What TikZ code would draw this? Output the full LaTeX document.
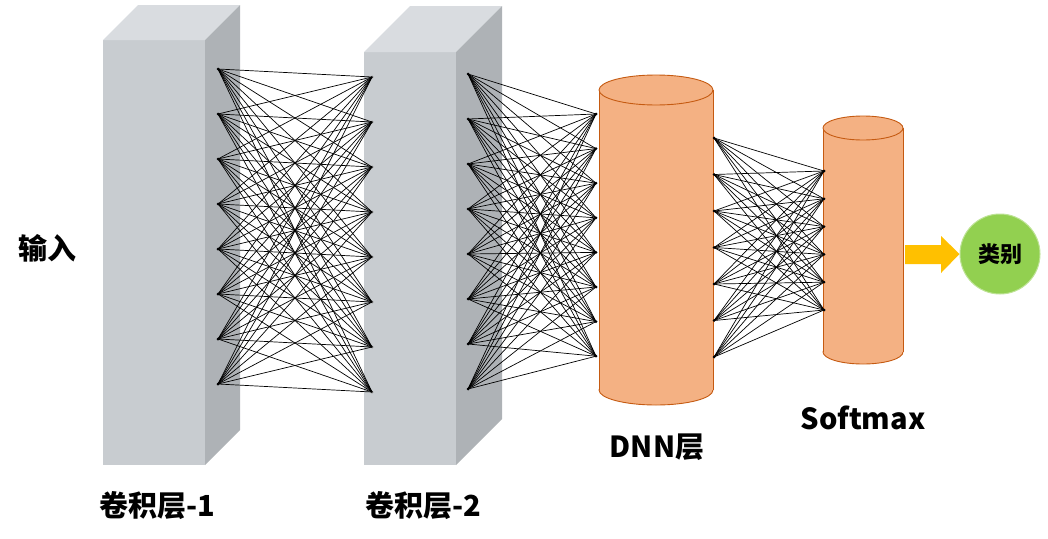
\documentclass[tikz,border=0pt]{standalone}
\usepackage{fontspec}
\setmainfont{Noto Sans CJK SC}
\definecolor{bfront}{HTML}{C8CCD0}
\definecolor{btop}{HTML}{D9DCE0}
\definecolor{bright}{HTML}{AEB2B6}
\definecolor{cylfill}{HTML}{F4B183}
\definecolor{cylline}{HTML}{C55A11}
\definecolor{arrowc}{HTML}{FFC000}
\definecolor{clsfill}{HTML}{92D050}
\tikzset{
  dot/.style={circle,fill=black,inner sep=0pt,minimum size=3pt},
  conn/.style={draw=black,line width=0.7pt},
  lbl/.style={font=\fontsize{29}{31}\selectfont\bfseries,inner sep=0pt},
  cyl/.style={fill=cylfill,draw=cylline,line width=0.9pt},
}
\begin{document}
\begin{tikzpicture}[x=1pt,y=-1pt]
\useasboundingbox (0,0) rectangle (1048,538);
% block 1
\fill[bfront] (103,40) rectangle (205,465);
\fill[btop] (103,40) -- (138,5) -- (240,5) -- (205,40) -- cycle;
\fill[bright] (205,40) -- (240,5) -- (240,430) -- (205,465) -- cycle;
% block 2
\fill[bfront] (364,52) rectangle (456,465);
\fill[btop] (364,52) -- (410,6) -- (502,6) -- (456,52) -- cycle;
\fill[bright] (456,52) -- (502,6) -- (502,419) -- (456,465) -- cycle;
% DNN cylinder
\draw[cyl] (656,390) ellipse [x radius=57pt, y radius=15pt];
\fill[cylfill] (599,90) rectangle (713,390);
\draw[cylline,line width=0.9pt] (599,90) -- (599,390) (713,90) -- (713,390);
\draw[cyl] (656,90) ellipse [x radius=57pt, y radius=15pt];
% Softmax cylinder
\draw[cyl] (863,352) ellipse [x radius=40pt, y radius=12pt];
\fill[cylfill] (823,128) rectangle (903,352);
\draw[cylline,line width=0.9pt] (823,128) -- (823,352) (903,128) -- (903,352);
\draw[cyl] (863,128) ellipse [x radius=40pt, y radius=12pt];
% neuron points
\foreach \i in {1,...,8} {
  \node[dot] (a\i) at (218,{69+45*(\i-1)}) {};
  \node[dot,fill=gray] (b\i) at (372,{77+45*(\i-1)}) {};
  \node[dot] (c\i) at (468,{74+45*(\i-1)}) {};
  \node[dot] (d\i) at (596,{114+34.6*(\i-1)}) {};
}
\foreach \i in {1,...,7} {
  \node[dot] (e\i) at (714,{138+36.5*(\i-1)}) {};
}
\foreach \i in {1,...,6} {
  \node[dot] (f\i) at (824,{171+27.8*(\i-1)}) {};
}
% connections
\foreach \i in {1,...,8} {
  \foreach \j in {1,...,8} {
    \draw[conn] (a\i.center) -- (b\j.center);
    \draw[conn] (c\i.center) -- (d\j.center);
  }
}
\foreach \i in {1,...,7} {
  \foreach \j in {1,...,6} {
    \draw[conn] (e\i.center) -- (f\j.center);
  }
}
% output arrow and class
\node[circle,fill=clsfill,draw=clsfill!60!white,line width=1pt,minimum size=80pt,inner sep=0pt,
      font=\fontsize{22}{24}\selectfont\bfseries] (cls) at (1000,254) {类别};
\fill[arrowc] (905,245) -- (941,245) -- (941,236) -- (cls.west) -- (941,273) -- (941,264) -- (905,264) -- cycle;
% labels
\node[lbl] (in) at (47,248) {输入};
\node[lbl] (l1) at (157,506) {卷积层-1};
\node[lbl] (l2) at (423,506) {卷积层-2};
\node[lbl] (l3) at (657,447) {DNN层};
\node[lbl] (l4) at (863,418) {Softmax};
\end{tikzpicture}
\end{document}
